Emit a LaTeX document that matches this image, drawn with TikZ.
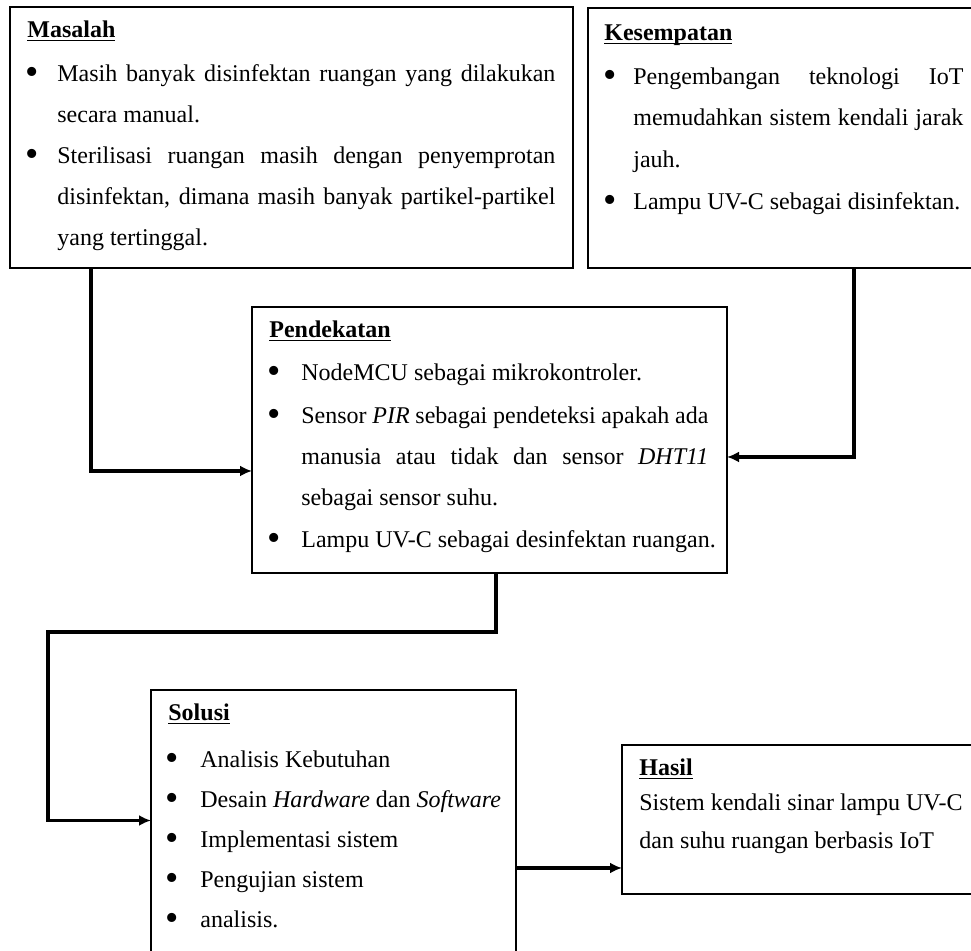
\documentclass[tikz,border=0pt]{standalone}
\usepackage{fontspec}
\setmainfont{Liberation Serif}
\usetikzlibrary{arrows.meta,calc}
\newcommand\ulhead[1]{\setbox0\hbox{\textbf{#1}}\rlap{\rule[-1.6pt]{\wd0}{0.6pt}}\box0}
\newcommand\jl[2]{\makebox[#1][s]{#2}}
\newcommand\bigbul{{\fontsize{19}{19}\selectfont\textbullet}}
\begin{document}
\begin{tikzpicture}[x=0.5pt,y=-0.5pt,
  box/.style={draw, line width=1pt, anchor=north west, inner sep=0pt, outer sep=0pt},
  txt/.style={anchor=base west, inner sep=0pt, yshift=-1.5pt, font=\fontsize{12}{14}\selectfont},
  bul/.style={anchor=base, inner sep=0pt, yshift=-2.6pt, font=\fontsize{12}{14}\selectfont},
  mtxt/.style={txt, yshift=1pt},
  mbul/.style={bul, yshift=1pt},
  conn/.style={line width=1.6pt, -{Latex[length=6pt,width=5.5pt]}}]
\useasboundingbox (0,0) rectangle (971,951);
\fill[white] (0,0) rectangle (971,951);

% boxes
\node[box, minimum width=281.5pt, minimum height=130.5pt] (masalah) at (10,7) {};
\node[box, minimum width=201pt, minimum height=130pt] (kesempatan) at (588,8) {};
\node[box, minimum width=237.5pt, minimum height=133pt] (pendekatan) at (252,307) {};
\node[box, minimum width=182.5pt, minimum height=142.5pt] (solusi) at (151,690) {};
\node[box, minimum width=184pt, minimum height=74.5pt] (hasil) at (622,745) {};

% Masalah
\node[txt] (mh) at (27,35) {\ulhead{Masalah}};
\node[mbul] (mb1) at (32,81) {\bigbul};
\node[mtxt] (m1) at (57,81) {\jl{249pt}{Masih banyak disinfektan ruangan yang dilakukan}};
\node[mtxt] (m2) at (57,122) {secara manual.};
\node[mbul] (mb2) at (32,163) {\bigbul};
\node[mtxt] (m3) at (57,163) {\jl{249pt}{Sterilisasi ruangan masih dengan penyemprotan}};
\node[mtxt] (m4) at (57,204) {\jl{249pt}{disinfektan, dimana masih banyak partikel-partikel}};
\node[mtxt] (m5) at (57,245) {yang tertinggal.};

% Kesempatan
\node[txt] (kh) at (604,38) {\ulhead{Kesempatan}};
\node[bul] (kb1) at (610,82) {\bigbul};
\node[txt] (k1) at (633,82) {\jl{165pt}{Pengembangan teknologi IoT}};
\node[txt] (k2) at (633,123) {\jl{165pt}{memudahkan sistem kendali jarak}};
\node[txt] (k3) at (633,165) {jauh.};
\node[bul] (kb2) at (610,207) {\bigbul};
\node[txt] (k4) at (633,207) {Lampu UV-C sebagai disinfektan.};

% Pendekatan
\node[txt] (ph) at (269,335) {\ulhead{Pendekatan}};
\node[bul] (pb1) at (274,378) {\bigbul};
\node[txt] (p1) at (301,378) {NodeMCU sebagai mikrokontroler.};
\node[bul] (pb2) at (274,421) {\bigbul};
\node[txt] (p2) at (301,421) {\jl{203.5pt}{Sensor \textit{PIR} sebagai pendeteksi apakah ada}};
\node[txt] (p3) at (301,462) {\jl{203.5pt}{manusia atau tidak dan sensor \textit{DHT11}}};
\node[txt] (p4) at (301,503) {sebagai sensor suhu.};
\node[bul] (pb3) at (274,545) {\bigbul};
\node[txt] (p5) at (301,545) {Lampu UV-C sebagai desinfektan ruangan.};

% Solusi
\node[txt] (sh) at (168,718) {\ulhead{Solusi}};
\node[bul] (sb1) at (172,765) {\bigbul};
\node[txt] (s1) at (200,765) {Analisis Kebutuhan};
\node[bul] (sb2) at (172,805) {\bigbul};
\node[txt] (s2) at (200,805) {Desain \textit{Hardware} dan \textit{Software}};
\node[bul] (sb3) at (172,845) {\bigbul};
\node[txt] (s3) at (200,845) {Implementasi sistem};
\node[bul] (sb4) at (172,885) {\bigbul};
\node[txt] (s4) at (200,885) {Pengujian sistem};
\node[bul] (sb5) at (172,925) {\bigbul};
\node[txt] (s5) at (200,925) {analisis.};

% Hasil
\node[txt] (hh) at (639,773) {\ulhead{Hasil}};
\node[txt] (h1) at (639,808) {Sistem kendali sinar lampu UV-C};
\node[txt] (h2) at (639,846) {dan suhu ruangan berbasis IoT};

% connectors
\coordinate (bend) at (48,632);
\coordinate (hin) at ($(hasil.west)+(0,48.5)$);
\draw[conn] ($(masalah.south west)+(81,0)$) |- ($(pendekatan.west)+(0,31)$);
\draw[conn] ($(kesempatan.south west)+(266,0)$) |- ($(pendekatan.east)+(0,17)$);
\draw[conn] ($(pendekatan.south west)+(244,0)$) |- (bend) |- ($(solusi.west)+(0,-12)$);
\draw[conn] (solusi.east |- hin) -- (hin);
\end{tikzpicture}
\end{document}
